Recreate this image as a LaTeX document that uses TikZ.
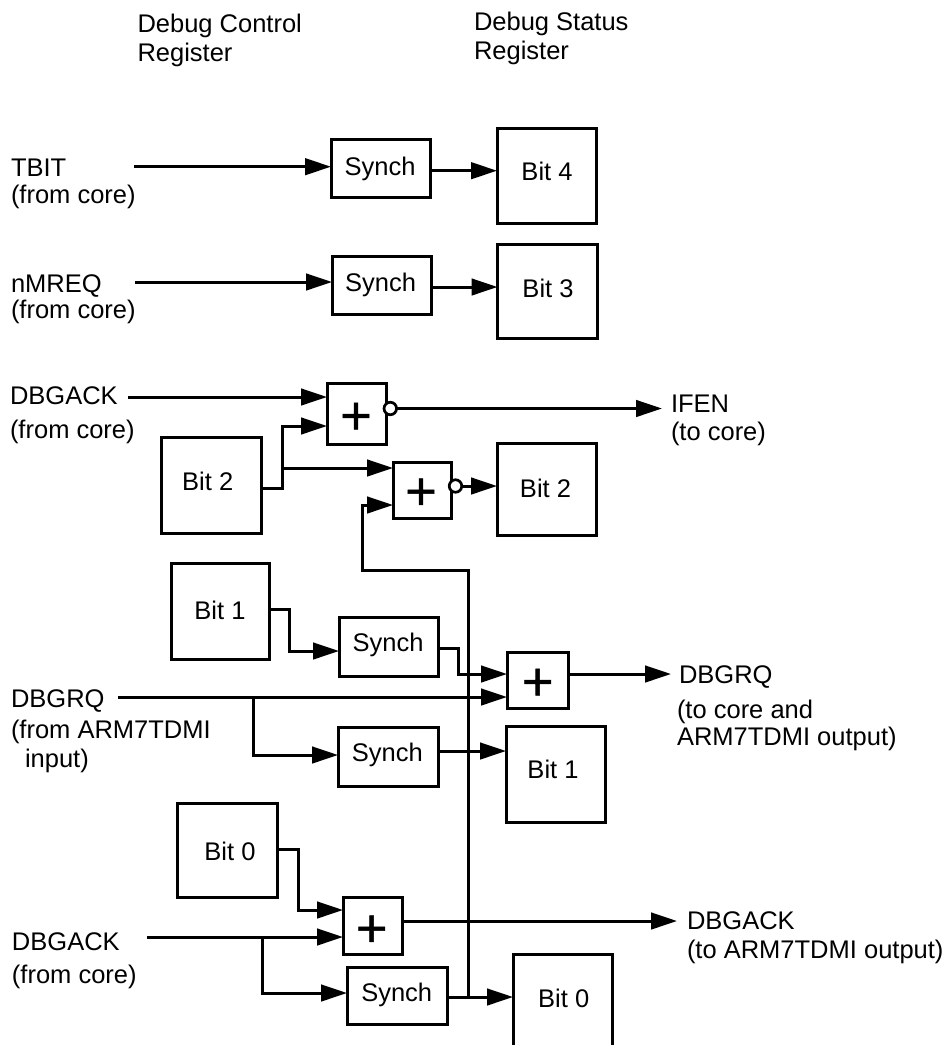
\documentclass[tikz,border=0pt]{standalone}
\usepackage{fontspec}
\setmainfont{Liberation Sans}
\newfontfamily\plusfont[FakeBold=1]{Liberation Sans}
\usetikzlibrary{arrows.meta}
\tikzset{
  txt/.style={inner sep=0pt,outer sep=0pt,anchor=base west,font=\fontsize{25.5}{30}\selectfont},
  blk/.style={draw=black,line width=3pt,inner sep=0pt,outer sep=0pt,fill=none,font=\fontsize{25.5}{30}\selectfont},
  wire/.style={draw=black,line width=3pt,line join=miter},
  arr/.style={wire,-{Triangle[length=26pt,width=16.5pt]}},
  bub/.style={circle,draw=black,line width=2.7pt,fill=white,minimum size=12.5pt,inner sep=0pt,outer sep=0pt}
}
% name x1 y1 x2 y2 text-centre-x text-baseline text
\newcommand\blkbox[8]{%
  \pgfmathsetmacro\bxw{#4-(#2)}\pgfmathsetmacro\bxh{#5-(#3)}%
  \pgfmathsetmacro\bxx{(#2+#4)/2}\pgfmathsetmacro\bxy{(#3+#5)/2}%
  \pgfmathsetmacro\bxdx{2*(#6-\bxx)}\pgfmathsetmacro\bxdy{\bxy-(#7)}%
  \node[blk,minimum width=\bxw pt,minimum height=\bxh pt] (#1) at (\bxx,\bxy)
    {\smash{\makebox[0pt][c]{\hspace*{\bxdx pt}\raisebox{\bxdy pt}{#8}}}};%
}
\newcommand\plusmark{\plusfont\fontsize{54}{60}\selectfont +}
\begin{document}
\begin{tikzpicture}[x=1pt,y=-1pt]
\useasboundingbox (0,0) rectangle (945,1045);
% labels
\node[txt] (hdc1) at (137.5,32) {Debug Control};
\node[txt] (hdc2) at (137.5,61) {Register};
\node[txt] (hds1) at (474,30) {Debug Status};
\node[txt] (hds2) at (474,59) {Register};
\node[txt] (ltbit) at (11,176) {TBIT};
\node[txt] (ltbit2) at (11,203) {(from core)};
\node[txt] (lnm) at (11,292) {nMREQ};
\node[txt] (lnm2) at (11,318) {(from core)};
\node[txt] (lack) at (10,404) {DBGACK};
\node[txt] (lack2) at (10,438) {(from core)};
\node[txt] (lifen) at (671,412.5) {IFEN};
\node[txt] (lifen2) at (671,440) {(to core)};
\node[txt] (lrq) at (11,707) {DBGRQ};
\node[txt] (lrq2) at (11,738) {(from ARM7TDMI};
\node[txt] (lrq3) at (25,767) {input)};
\node[txt] (lrqo) at (679,683) {DBGRQ};
\node[txt] (lrqo2) at (677,718) {(to core and};
\node[txt] (lrqo3) at (677,745) {ARM7TDMI output)};
\node[txt] (lack3) at (12,950) {DBGACK};
\node[txt] (lack4) at (12,983) {(from core)};
\node[txt] (lacko) at (687,929.5) {DBGACK};
\node[txt] (lacko2) at (687,958) {(to ARM7TDMI output)};
% blocks
\blkbox{syn1}{331}{139.5}{430}{197.5}{380}{175}{Synch}
\blkbox{bit4}{497}{128}{596}{223}{547}{180.7}{Bit 4}
\blkbox{syn2}{332}{256}{431}{314}{380.5}{291}{Synch}
\blkbox{bit3}{497.5}{244}{597}{338}{548}{297.7}{Bit 3}
\blkbox{or1}{327}{383}{386}{444}{356}{434}{\plusmark}
\blkbox{b2l}{161}{437}{261}{533}{207.7}{490}{Bit 2}
\blkbox{or2}{393}{462}{451}{518}{421}{509.7}{\plusmark}
\blkbox{b2r}{497}{443}{596}{535}{545.5}{497}{Bit 2}
\blkbox{b1l}{171}{563}{269}{659}{220}{619}{Bit 1}
\blkbox{syn3}{339}{617}{438}{676}{388}{651.7}{Synch}
\blkbox{or3}{507}{652}{568}{708}{537.7}{700}{\plusmark}
\blkbox{syn4}{338}{727}{438}{786}{387.3}{761.7}{Synch}
\blkbox{b1r}{506}{726}{605}{822}{553}{778}{Bit 1}
\blkbox{b0l}{177}{803}{277}{897}{230}{860}{Bit 0}
\blkbox{or4}{343}{897}{402}{954}{371.7}{946.7}{\plusmark}
\blkbox{syn5}{347}{967}{447}{1024}{396.7}{1001.7}{Synch}
\blkbox{b0r}{513}{954}{612}{1052}{563.7}{1007.7}{Bit 0}
\node[bub] (bub1) at (390.3,408.5) {};
\node[bub] (bub2) at (455.5,486) {};
% free ends and junctions
\coordinate (tbitS) at (134,166.7);
\coordinate (nmS) at (135,282);
\coordinate (ackS) at (128,397);
\coordinate (ifenT) at (662,408.5);
\coordinate (rqS) at (118,697);
\coordinate (rqJ) at (253,697);
\coordinate (rqB) at (253,755);
\coordinate (rqT) at (671,674);
\coordinate (ackbS) at (147,937);
\coordinate (ackbJ) at (262,937);
\coordinate (ackbB) at (262,993);
\coordinate (ackT) at (677,921);
\coordinate (j1) at (282,488);
\coordinate (j2) at (282,468);
\coordinate (j3) at (282,426);
\coordinate (vb) at (468,997);
\coordinate (vt) at (468,570);
\coordinate (vl) at (362,570);
\coordinate (vi) at (362,505);
% connectors
\draw[arr] (tbitS) -- (syn1.west |- tbitS);
\draw[arr] (syn1.east |- 0,170.7) -- (bit4.west |- 0,170.7);
\draw[arr] (nmS) -- (syn2.west |- nmS);
\draw[arr] (syn2.east |- 0,287) -- (bit3.west |- 0,287);
\draw[arr] (ackS) -- (or1.west |- ackS);
\draw[arr] (b2l.east |- j1) -- (j1) -- (j3) -- (or1.west |- j3);
\draw[arr] (j2) -- (or2.west |- j2);
\draw[arr] (bub1.east) -- (ifenT);
\draw[arr] (bub2.east) -- (b2r.west |- bub2);
\draw[arr] (vb) -- (vt) -- (vl) -- (vi) -- (or2.west |- vi);
\draw[arr] (b1l.east |- 0,609) -- (289,609) -- (289,651) -- (syn3.west |- 0,651);
\draw[arr] (syn3.east |- 0,648) -- (458,648) -- (458,674) -- (or3.west |- 0,674);
\draw[arr] (rqS) -- (or3.west |- rqS);
\draw[arr] (rqJ) -- (rqB) -- (syn4.west |- rqB);
\draw[arr] (syn4.east |- 0,751) -- (b1r.west |- 0,751);
\draw[arr] (or3.east |- rqT) -- (rqT);
\draw[arr] (b0l.east |- 0,849) -- (298,849) -- (298,910) -- (or4.west |- 0,910);
\draw[arr] (ackbS) -- (or4.west |- ackbS);
\draw[arr] (ackbJ) -- (ackbB) -- (syn5.west |- ackbB);
\draw[arr] (or4.east |- ackT) -- (ackT);
\draw[arr] (syn5.east |- vb) -- (b0r.west |- vb);
\end{tikzpicture}
\end{document}
